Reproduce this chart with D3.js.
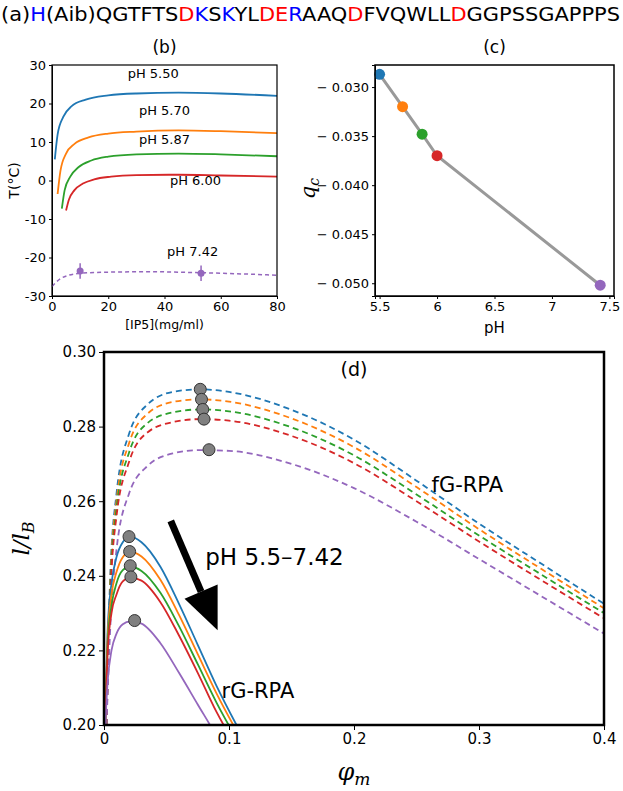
<!DOCTYPE html>
<meta charset="utf-8">
<style>
body{margin:0;background:white;font-family:"DejaVu Sans",sans-serif;}
text{fill:black;}
</style>
<script src="https://d3js.org/d3.v7.min.js"></script>
<svg id="fig" width="623" height="791"></svg>
<script>
// colours of the 5 pH values
var colors = ["#1f77b4", "#ff7f0e", "#2ca02c", "#d62728", "#9467bd"];
var phLabels = ["pH 5.50", "pH 5.70", "pH 5.87", "pH 6.00", "pH 7.42"];

// panel (b): T vs [IP5]
var bX = [
  [1, 2, 4, 7, 12, 20, 30, 45, 60, 80],
  [2, 3, 5, 8, 13, 20, 30, 45, 60, 80],
  [3.5, 4.5, 6.5, 9.5, 14, 20, 30, 45, 60, 80],
  [5, 6, 8, 11, 15, 21, 30, 45, 60, 80]
];
var bY = [
  [5.5, 12, 16.5, 19.3, 21, 22.1, 22.6, 22.8, 22.6, 22.0],
  [-3.5, 2.5, 7, 9.5, 11.2, 12.2, 12.7, 13.0, 12.8, 12.3],
  [-7.3, -2.5, 1, 3.5, 5.2, 6.2, 6.8, 7.0, 6.8, 6.3],
  [-7.8, -5, -2.5, -0.8, 0.3, 1.0, 1.4, 1.5, 1.3, 1.0]
];
var b742X = [0, 3, 6, 10, 20, 35, 50, 65, 80];
var b742Y = [-27.5, -25.5, -24.6, -24.1, -23.8, -23.7, -23.9, -24.2, -24.6];
var expX = [10, 53], expY = [-23.5, -24.1], expErr = [2, 2];
var bLabelPos = [[36, 26.5], [40, 17], [40, 9.5], [51, -1.2], [50, -19.5]];

// panel (c): q_c vs pH
var cPH = [5.5, 5.7, 5.87, 6.0, 7.42];
var cQ = [-0.0287, -0.0320, -0.0348, -0.0370, -0.0502];

// panel (d): fG-RPA (dashed)
var fX = [0.002, 0.005, 0.01, 0.02, 0.035, 0.055, 0.077, 0.1, 0.15, 0.2, 0.25, 0.3, 0.35, 0.4];
var fY = [
  [0.20, 0.240, 0.262, 0.2780, 0.2860, 0.2893, 0.2900, 0.2893, 0.2845, 0.2765, 0.2655, 0.2540, 0.2432, 0.2325],
  [0.20, 0.238, 0.260, 0.2755, 0.2835, 0.2866, 0.2873, 0.2867, 0.2822, 0.2745, 0.2638, 0.2525, 0.2418, 0.2313],
  [0.20, 0.236, 0.258, 0.2730, 0.2810, 0.2838, 0.2846, 0.2841, 0.2798, 0.2723, 0.2618, 0.2508, 0.2403, 0.2300],
  [0.20, 0.234, 0.256, 0.2705, 0.2785, 0.2812, 0.2820, 0.2816, 0.2775, 0.2702, 0.2600, 0.2492, 0.2388, 0.2286],
  [0.20, 0.226, 0.247, 0.2620, 0.2695, 0.2728, 0.2737, 0.2735, 0.2700, 0.2635, 0.2545, 0.2445, 0.2345, 0.2245]
];
var fPeakX = [0.077, 0.078, 0.079, 0.080, 0.084];
var fPeakY = [0.2900, 0.2873, 0.2846, 0.2820, 0.2738];
// rG-RPA (solid)
var rX = [0.001, 0.003, 0.006, 0.01, 0.015, 0.021, 0.03, 0.045, 0.06, 0.075, 0.09, 0.11];
var rY = [
  [0.20, 0.226, 0.238, 0.245, 0.249, 0.2505, 0.249, 0.2425, 0.2325, 0.2215, 0.2105, 0.1975],
  [0.20, 0.224, 0.235, 0.241, 0.245, 0.2465, 0.2452, 0.2390, 0.2295, 0.2190, 0.2085, 0.1960],
  [0.20, 0.222, 0.232, 0.238, 0.2415, 0.2425, 0.2413, 0.2355, 0.2265, 0.2163, 0.2060, 0.1940],
  [0.20, 0.220, 0.230, 0.235, 0.2385, 0.2395, 0.2387, 0.2330, 0.2240, 0.2140, 0.2035, 0.1920],
  [0.20, 0.212, 0.220, 0.2245, 0.227, 0.2278, 0.2272, 0.2220, 0.2140, 0.2055, 0.1970, 0.1840]
];
var rPeakX = [0.020, 0.0205, 0.021, 0.0215, 0.0245];
var rPeakY = [0.2505, 0.2465, 0.2427, 0.2397, 0.2280];

var svg = d3.select("#fig");

// (a) sequence
var seq = [["(a)", "black"], ["H", "blue"], ["(Aib)QGTFTS", "black"], ["D", "red"], ["K", "blue"], ["S", "black"], ["K", "blue"],
  ["YL", "black"], ["DE", "red"], ["R", "blue"], ["AAQ", "black"], ["D", "red"], ["FVQWLL", "black"], ["D", "red"], ["GGPSSGAPPPS", "black"]];
var t = svg.append("text").attr("x", 1).attr("y", 21).style("font-size", "19px").attr("textLength", 619).attr("lengthAdjust", "spacingAndGlyphs");
seq.forEach(function(s){ t.append("tspan").style("fill", s[1]).text(s[0]); });

function frame(g, w, h, sw){
  g.append("rect").attr("width", w).attr("height", h).attr("fill", "none").attr("stroke", "black").attr("stroke-width", sw);
}

// ---------- panel b
var bm = {l: 52, t: 65, w: 225, h: 231};
var gb = svg.append("g").attr("transform", "translate(" + bm.l + "," + bm.t + ")");
var xb = d3.scaleLinear().domain([0, 80]).range([0, bm.w]);
var yb = d3.scaleLinear().domain([-30, 30]).range([bm.h, 0]);
gb.append("g").attr("transform", "translate(0," + bm.h + ")").call(d3.axisBottom(xb).tickValues([0, 20, 40, 60, 80]).tickSize(3)).style("font-size", "13px").style("font-family", "DejaVu Sans");
gb.append("g").call(d3.axisLeft(yb).tickValues([-30, -20, -10, 0, 10, 20, 30]).tickSize(3).tickFormat(d3.format("d"))).style("font-size", "13px").style("font-family", "DejaVu Sans");
gb.selectAll(".tick text").text(function(){ return this.textContent.replace("−", "-"); });
var lb = d3.line().x(d => xb(d[0])).y(d => yb(d[1])).curve(d3.curveMonotoneX);
bX.forEach(function(xs, i){
  gb.append("path").attr("d", lb(d3.zip(xs, bY[i]))).attr("fill", "none").attr("stroke", colors[i]).attr("stroke-width", 1.8);
});
gb.append("path").attr("d", lb(d3.zip(b742X, b742Y))).attr("fill", "none").attr("stroke", colors[4]).attr("stroke-width", 1.5).attr("stroke-dasharray", "4,3");
expX.forEach(function(x, i){
  gb.append("line").attr("x1", xb(x)).attr("x2", xb(x)).attr("y1", yb(expY[i] - expErr[i])).attr("y2", yb(expY[i] + expErr[i])).attr("stroke", colors[4]).attr("stroke-width", 1.5);
  gb.append("circle").attr("cx", xb(x)).attr("cy", yb(expY[i])).attr("r", 3.5).attr("fill", colors[4]);
});
phLabels.forEach(function(s, i){
  gb.append("text").attr("x", xb(bLabelPos[i][0])).attr("y", yb(bLabelPos[i][1])).attr("text-anchor", "middle").style("font-size", "13px").text(s);
});
frame(gb, bm.w, bm.h, 1.2);
gb.append("text").attr("x", bm.w / 2).attr("y", -12).attr("text-anchor", "middle").style("font-size", "17px").text("(b)");
gb.append("text").attr("x", bm.w / 2).attr("y", bm.h + 33).attr("text-anchor", "middle").style("font-size", "12.5px").text("[IP5](mg/ml)");
gb.append("text").attr("transform", "translate(-33," + (bm.h / 2) + ") rotate(-90)").attr("text-anchor", "middle").style("font-size", "14px").text("T(°C)");

// ---------- panel c
var cm = {l: 375, t: 65, w: 239, h: 231};
var gc = svg.append("g").attr("transform", "translate(" + cm.l + "," + cm.t + ")");
var xc = d3.scaleLinear().domain([5.46, 7.54]).range([0, cm.w]);
var yc = d3.scaleLinear().domain([-0.0513, -0.02775]).range([cm.h, 0]);
gc.append("g").attr("transform", "translate(0," + cm.h + ")").call(d3.axisBottom(xc).tickValues([5.5, 6, 6.5, 7, 7.5]).tickSize(3).tickFormat(d3.format("~g"))).style("font-size", "13px").style("font-family", "DejaVu Sans");
gc.append("g").call(d3.axisLeft(yc).tickValues([-0.03, -0.035, -0.04, -0.045, -0.05]).tickSize(3).tickFormat(d => "− " + d3.format(".3f")(-d))).style("font-size", "13px").style("font-family", "DejaVu Sans");
gc.append("path").attr("d", d3.line().x(d => xc(d[0])).y(d => yc(d[1]))(d3.zip(cPH, cQ))).attr("fill", "none").attr("stroke", "#999").attr("stroke-width", 3);
cPH.forEach(function(p, i){
  gc.append("circle").attr("cx", xc(p)).attr("cy", yc(cQ[i])).attr("r", 5.5).attr("fill", colors[i]);
});
frame(gc, cm.w, cm.h, 1.5);
gc.append("text").attr("x", cm.w / 2).attr("y", -12).attr("text-anchor", "middle").style("font-size", "17px").text("(c)");
gc.append("text").attr("x", cm.w / 2).attr("y", cm.h + 37).attr("text-anchor", "middle").style("font-size", "15px").text("pH");
gc.append("text").attr("transform", "translate(-60," + (cm.h / 2 + 8) + ") rotate(-90)").attr("text-anchor", "middle").style("font-size", "21px").style("font-family", "DejaVu Serif").style("font-style", "italic").html("q<tspan dy='4' style='font-size:14px'>c</tspan>");

// ---------- panel d
var dm = {l: 104, t: 352, w: 500, h: 373};
var gd = svg.append("g").attr("transform", "translate(" + dm.l + "," + dm.t + ")");
var xd = d3.scaleLinear().domain([0, 0.4]).range([0, dm.w]);
var yd = d3.scaleLinear().domain([0.2, 0.3]).range([dm.h, 0]);
gd.append("defs").append("clipPath").attr("id", "clipd").append("rect").attr("width", dm.w).attr("height", dm.h);
gd.append("g").attr("transform", "translate(0," + dm.h + ")").call(d3.axisBottom(xd).tickValues([0, 0.1, 0.2, 0.3, 0.4]).tickSize(5).tickFormat(d3.format("~g"))).style("font-size", "15px").style("font-family", "DejaVu Sans");
gd.append("g").call(d3.axisLeft(yd).tickValues([0.2, 0.22, 0.24, 0.26, 0.28, 0.3]).tickSize(5).tickFormat(d3.format(".2f"))).style("font-size", "15px").style("font-family", "DejaVu Sans");
var ld = d3.line().x(d => xd(d[0])).y(d => yd(d[1])).curve(d3.curveMonotoneX);
var curves = gd.append("g").attr("clip-path", "url(#clipd)");
fY.forEach(function(ys, i){
  curves.append("path").attr("d", ld(d3.zip(fX, ys))).attr("fill", "none").attr("stroke", colors[i]).attr("stroke-width", 1.8).attr("stroke-dasharray", "6,4");
});
rY.forEach(function(ys, i){
  curves.append("path").attr("d", ld(d3.zip(rX, ys))).attr("fill", "none").attr("stroke", colors[i]).attr("stroke-width", 1.8);
});
fPeakX.concat(rPeakX).forEach(function(x, i){
  var y = fPeakY.concat(rPeakY)[i];
  gd.append("circle").attr("cx", xd(x)).attr("cy", yd(y)).attr("r", 6).attr("fill", "#808080").attr("stroke", "#333").attr("stroke-width", 1);
});
// arrow
var a0 = [xd(0.0534), yd(0.2547)], a1 = [xd(0.0909), yd(0.2254)];
var ang = Math.atan2(a1[1] - a0[1], a1[0] - a0[0]);
var hl = 42, hw = 18;
var bx = a1[0] - hl * Math.cos(ang), by = a1[1] - hl * Math.sin(ang);
gd.append("line").attr("x1", a0[0]).attr("y1", a0[1]).attr("x2", bx).attr("y2", by).attr("stroke", "black").attr("stroke-width", 7);
gd.append("path").attr("d", "M" + a1 + "L" + [bx + hw * Math.sin(ang), by - hw * Math.cos(ang)] + "L" + [bx - hw * Math.sin(ang), by + hw * Math.cos(ang)] + "Z").attr("fill", "black");
gd.append("text").attr("x", xd(0.081)).attr("y", yd(0.2428)).style("font-size", "23px").text("pH 5.5–7.42");
gd.append("text").attr("x", xd(0.262)).attr("y", yd(0.2625)).style("font-size", "21px").text("fG-RPA");
gd.append("text").attr("x", xd(0.094)).attr("y", yd(0.2073)).style("font-size", "21px").text("rG-RPA");
gd.append("text").attr("x", xd(0.2)).attr("y", yd(0.2935)).attr("text-anchor", "middle").style("font-size", "19px").text("(d)");
frame(gd, dm.w, dm.h, 2.5);
gd.append("text").attr("x", dm.w / 2).attr("y", dm.h + 55).attr("text-anchor", "middle").style("font-size", "24px").style("font-family", "DejaVu Serif").style("font-style", "italic").html("φ<tspan dy='5' style='font-size:17px'>m</tspan>");
gd.append("text").attr("transform", "translate(-75," + (dm.h / 2) + ") rotate(-90)").attr("text-anchor", "middle").style("font-size", "23px").style("font-family", "DejaVu Serif").style("font-style", "italic").html("l/l<tspan dy='5' style='font-size:16px'>B</tspan>");
</script>
